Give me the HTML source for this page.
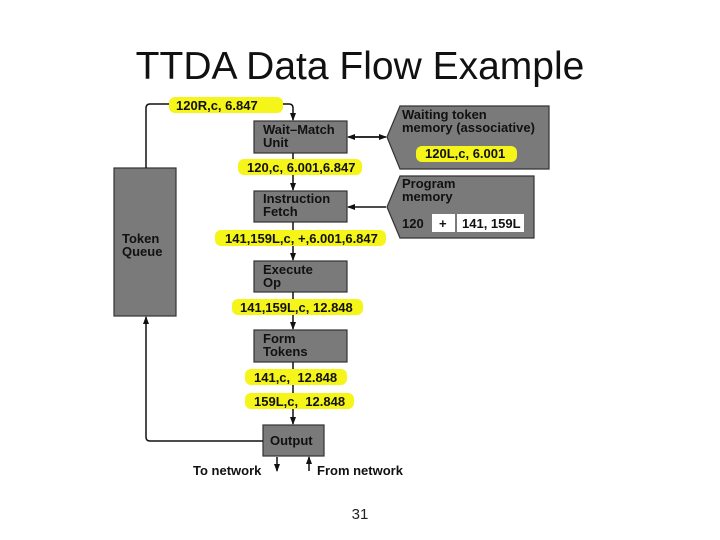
<!DOCTYPE html>
<html><head><style>
body{margin:0;background:#fff;width:720px;height:540px;overflow:hidden;position:relative;font-family:"Liberation Sans",sans-serif}
.t{position:absolute;left:0;width:720px;text-align:center;top:45px;font-size:39px;color:#111}
.n{position:absolute;left:0;width:720px;text-align:center;top:506px;font-size:15px;color:#222}
svg text{font-family:"Liberation Sans",sans-serif;font-weight:bold;font-size:13px;fill:#111;white-space:pre}
</style></head><body>
<div class="t">TTDA Data Flow Example</div>
<svg width="720" height="540" style="position:absolute;left:0;top:0">
<defs><marker id="a" markerWidth="8" markerHeight="8" refX="7" refY="4" orient="auto" markerUnits="userSpaceOnUse"><path d="M0,1 L8,4 L0,7z" fill="#111"/></marker></defs>
<g fill="#7a7a7a" stroke="#333" stroke-width="1.2">
<rect x="114" y="168" width="62" height="148"/>
<rect x="254" y="121" width="93" height="32"/>
<rect x="254" y="191" width="93" height="31"/>
<rect x="254" y="261" width="93" height="31"/>
<rect x="254" y="330" width="93" height="32"/>
<rect x="263" y="425" width="61" height="31"/>
<polygon points="387,137 400,106 549,106 549,169 400,169"/>
<polygon points="387,207 400,176 534,176 534,238 400,238"/>
</g>
<g stroke="#111" stroke-width="1.5" fill="none">
<path d="M146,168 V108 Q146,104 150,104 H289 Q293,104 293,108 V120" marker-end="url(#a)"/>
<path d="M293,153 V190" marker-end="url(#a)"/>
<path d="M293,222 V260" marker-end="url(#a)"/>
<path d="M293,292 V329" marker-end="url(#a)"/>
<path d="M293,362 V424" marker-end="url(#a)"/>
<path d="M386,207 H348" marker-end="url(#a)"/>
<path d="M350,137 H386" marker-end="url(#a)"/>
<path d="M384,137 H348" marker-end="url(#a)"/>
<path d="M263,441 H150 Q146,441 146,437 V317" marker-end="url(#a)"/>
<path d="M277,457 V471" marker-end="url(#a)"/>
<path d="M309,471 V457" marker-end="url(#a)"/>
</g>
<g fill="#f5f51a">
<rect x="169" y="97" width="114" height="16" rx="6"/>
<rect x="238" y="159" width="124" height="16" rx="6"/>
<rect x="416" y="146" width="101" height="16" rx="6"/>
<rect x="215" y="230" width="171" height="16" rx="6"/>
<rect x="232" y="299" width="131" height="16" rx="6"/>
<rect x="245" y="369" width="102" height="16" rx="6"/>
<rect x="245" y="393" width="109" height="16" rx="6"/>
</g>
<rect x="432" y="214" width="23" height="18" fill="#fff"/>
<rect x="457" y="214" width="67" height="18" fill="#fff"/>
<text x="176" y="110">120R,c, 6.847</text>
<text x="263" y="134">Wait–Match</text><text x="263" y="147">Unit</text>
<text x="402" y="119">Waiting token</text><text x="402" y="132">memory (associative)</text>
<text x="425" y="158">120L,c, 6.001</text>
<text x="247" y="172">120,c, 6.001,6.847</text>
<text x="263" y="203">Instruction</text><text x="263" y="216">Fetch</text>
<text x="402" y="188">Program</text><text x="402" y="201">memory</text>
<text x="402" y="228">120</text><text x="439" y="228">+</text><text x="462" y="228">141, 159L</text>
<text x="122" y="243">Token</text><text x="122" y="256">Queue</text>
<text x="225" y="243">141,159L,c, +,6.001,6.847</text>
<text x="263" y="274">Execute</text><text x="263" y="287">Op</text>
<text x="240" y="312">141,159L,c, 12.848</text>
<text x="263" y="343">Form</text><text x="263" y="356">Tokens</text>
<text x="254" y="382">141,c,  12.848</text>
<text x="254" y="406">159L,c,  12.848</text>
<text x="270" y="445">Output</text>
<text x="193" y="475">To network</text>
<text x="317" y="475">From network</text>
</svg>
<div class="n">31</div>
</body></html>
